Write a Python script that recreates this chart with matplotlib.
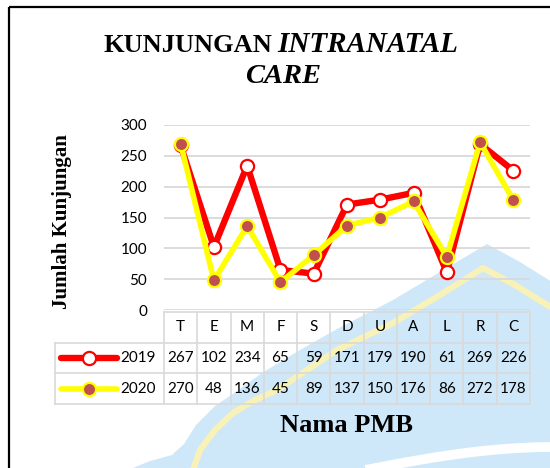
import matplotlib
matplotlib.use("Agg")
import matplotlib.pyplot as plt
from matplotlib.patches import Polygon
import numpy as np

# ---- data ----
categories = ["T", "E", "M", "F", "S", "D", "U", "A", "L", "R", "C"]
series_names = ["2019", "2020"]
values_2019 = [267, 102, 234, 65, 59, 171, 179, 190, 61, 269, 226]
values_2020 = [270, 48, 136, 45, 89, 137, 150, 176, 86, 272, 178]
y_ticks = [0, 50, 100, 150, 200, 250, 300]

W, H = 550, 468
fig = plt.figure(figsize=(W / 100, H / 100), dpi=100)
fig.patch.set_facecolor("white")

def fr(x0, y0, x1, y1):
    return [x0 / W, 1 - y1 / H, (x1 - x0) / W, (y1 - y0) / H]

SERIF = "Liberation Serif"
SANS = "Lato"
GRID = "#D9D9D9"

# ---- background watermark (decoration) ----
bg = fig.add_axes([0, 0, 1, 1], zorder=-10)
bg.set_xlim(0, W)
bg.set_ylim(H, 0)
bg.axis("off")
blue = Polygon([(487, 244), (520, 262), (552, 282), (552, 470), (128, 470),
                (150, 461), (172, 455), (184, 444), (196, 425), (215, 406),
                (240, 389), (262, 373), (300, 350), (337, 329), (393, 300),
                (440, 272)],
               closed=True, facecolor="#CEE8F9", edgecolor="none")
bg.add_patch(blue)
yx = [193, 200, 215, 233, 255, 277, 310, 337, 393, 440, 483, 515, 552]
yy = [470, 450, 430, 413, 400, 390, 368, 350, 323, 295, 268, 285, 308]
bg.plot(yx, yy, color="#F8F1B8", lw=4.5, solid_capstyle="butt")
t = np.linspace(0, 1, 30)
ax_ = 360 + 195 * t
ay_ = 471 - 24 * np.sin(t * np.pi / 2)
bg.plot(ax_, ay_, color="white", lw=7)
# frame
bg.plot([9, 9], [470, 7], color="black", lw=1.6, solid_capstyle="butt")
bg.plot([9, 552], [7, 7], color="black", lw=1.6, solid_capstyle="butt")

# ---- main plot ----
ax = fig.add_axes(fr(164, 125, 530, 310))
ax.patch.set_alpha(0)
x = np.arange(len(categories))
ax.set_xlim(-0.5, len(categories) - 0.5)
ax.set_ylim(0, 300)
ax.set_yticks(y_ticks)
ax.set_yticklabels([str(v) for v in y_ticks], fontfamily=SANS, fontsize=11)
ax.set_xticks([])
ax.tick_params(axis="y", length=0, pad=12)
for s in ax.spines.values():
    s.set_visible(False)
ax.grid(axis="y", color=GRID, lw=1.3)
ax.set_axisbelow(True)

ax.plot(x, values_2019, color="#FF0000", lw=4.6, marker="o", ms=9.5,
        mfc="white", mec="#FF0000", mew=1.6, clip_on=False, zorder=3)
ax.plot(x, values_2020, color="#FFFF00", lw=4.0, marker="o", ms=9.5,
        mfc="#C0504D", mec="#FFFF00", mew=1.6, clip_on=False, zorder=4)

# ---- data table ----
colw = 366 / len(categories)
x0 = -0.5 - (164 - 55) / colw
tb = fig.add_axes(fr(55, 312, 530, 404))
tb.patch.set_alpha(0)
tb.set_xlim(x0, len(categories) - 0.5)
tb.set_ylim(3, 0)
tb.axis("off")
lk = dict(color=GRID, lw=1.2, clip_on=False)
tb.plot([-0.5, len(categories) - 0.5], [0, 0], **lk)
for r in (1, 2, 3):
    tb.plot([x0, len(categories) - 0.5], [r, r], **lk)
for k in range(len(categories) + 1):
    tb.plot([k - 0.5, k - 0.5], [0, 3], **lk)
tb.plot([x0, x0], [1, 3], **lk)

tf = dict(fontfamily=SANS, fontsize=11, ha="center", va="center", color="black")
for i, c in enumerate(categories):
    tb.text(i, 0.5, c, **tf)
    tb.text(i, 1.5, str(values_2019[i]), **tf)
    tb.text(i, 2.5, str(values_2020[i]), **tf)

lx0 = x0 + 6 / colw
lx1 = x0 + 62 / colw
lxm = (lx0 + lx1) / 2
tb.plot([lx0, lx1], [1.5, 1.5], color="#FF0000", lw=4.6, solid_capstyle="round", clip_on=False)
tb.plot([lxm], [1.5], marker="o", ms=9.5, mfc="white", mec="#FF0000", mew=1.6, clip_on=False)
tb.plot([lx0, lx1], [2.5, 2.5], color="#FFFF00", lw=4.0, solid_capstyle="round", clip_on=False)
tb.plot([lxm], [2.5], marker="o", ms=9.5, mfc="#C0504D", mec="#FFFF00", mew=1.6, clip_on=False)
tb.text(x0 + 65 / colw, 1.5, series_names[0], fontfamily=SANS, fontsize=11, ha="left", va="center")
tb.text(x0 + 65 / colw, 2.5, series_names[1], fontfamily=SANS, fontsize=11, ha="left", va="center")

# ---- titles ----
t1 = fig.text(103 / W, 1 - 45 / H, "KUNJUNGAN", fontfamily=SERIF, fontweight="bold",
              fontsize=19, ha="left", va="center")
fig.canvas.draw()
bb = t1.get_window_extent()
fig.text((bb.x1 + 5) / W, 1 - 45 / H, "INTRANATAL", fontfamily=SERIF, fontweight="bold",
         fontstyle="italic", fontsize=21, ha="left", va="center")
fig.text(283 / W, 1 - 76.5 / H, "CARE", fontfamily=SERIF, fontweight="bold",
         fontstyle="italic", fontsize=20.5, ha="center", va="center")
fig.text(62 / W, 1 - 222 / H, "Jumlah Kunjungan", fontfamily=SERIF, fontweight="bold",
         fontsize=15, rotation=90, ha="center", va="center")
fig.text(347 / W, 1 - 425 / H, "Nama PMB", fontfamily=SERIF, fontweight="bold",
         fontsize=19, ha="center", va="center")

fig.savefig("out.png", dpi=100, facecolor="white")
